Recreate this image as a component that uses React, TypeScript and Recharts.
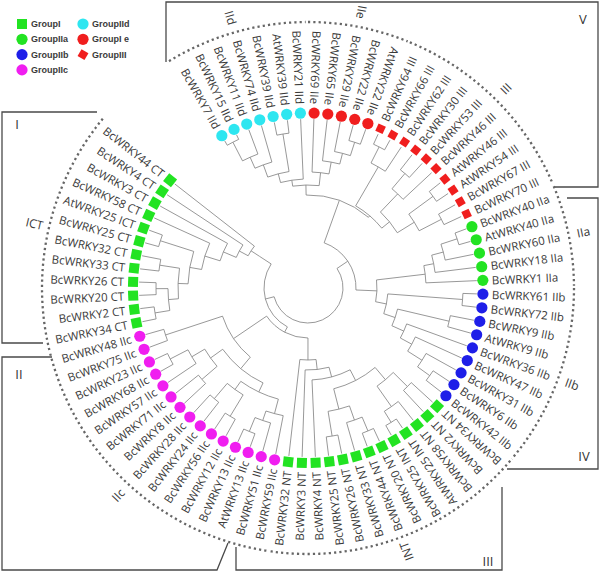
import React from "react";
import { ScatterChart, Scatter, XAxis, YAxis } from "recharts";

// leaf labels, clockwise from the top-left (BcWRKY7 IId)
const groupIId = ["BcWRKY7 IId", "BcWRKY15 IId", "BcWRKY11 IId", "BcWRKY74 IId", "BcWRKY39 IId", "AtWRKY39 IId", "BcWRKY21 IId"];
const groupIIe = ["BcWRKY69 IIe", "BcWRKY65 IIe", "BcWRKY29 IIe", "BcWRKY22 IIe", "AtWRKY22 IIe"];
const groupIII = ["BcWRKY64 III", "BcWRKY66 III", "BcWRKY62 III", "BcWRKY30 III", "BcWRKY53 III", "BcWRKY46 III", "AtWRKY46 III", "AtWRKY54 III", "BcWRKY67 III", "BcWRKY70 III"];
const groupIIa = ["BcWRKY40 IIa", "AtWRKY40 IIa", "BcWRKY60 IIa", "BcWRKY18 IIa", "BcWRKY1 IIa"];
const groupIIb = ["BcWRKY61 IIb", "BcWRKY72 IIb", "BcWRKY9 IIb", "AtWRKY9 IIb", "BcWRKY36 IIb", "BcWRKY47 IIb", "BcWRKY31 IIb", "BcWRKY6 IIb", "BcWRKY42 IIb"];
const groupNT = ["BcWRKY34 NT", "BcWRKY2 NT", "BcWRKY58 NT", "AtWRKY25 INT", "BcWRKY25 INT", "BcWRKY20 NT", "BcWRKY44 NT", "BcWRKY33 NT", "BcWRKY26 NT", "BcWRKY25 NT", "BcWRKY4 NT", "BcWRKY3 NT", "BcWRKY32 NT"];
const groupIIc = ["BcWRKY59 IIc", "BcWRKY51 IIc", "AtWRKY13 IIc", "BcWRKY13 IIc", "BcWRKY12 IIc", "BcWRKY56 IIc", "BcWRKY24 IIc", "BcWRKY28 IIc", "BcWRKY8 IIc", "BcWRKY71 IIc", "BcWRKY57 IIc", "BcWRKY68 IIc", "BcWRKY23 IIc", "BcWRKY75 IIc", "BcWRKY48 IIc"];
const groupCT = ["BcWRKY34 CT", "BcWRKY2 CT", "BcWRKY20 CT", "BcWRKY26 CT", "BcWRKY33 CT", "BcWRKY32 CT", "BcWRKY25 CT", "AtWRKY25 ICT", "BcWRKY58 CT", "BcWRKY3 CT", "BcWRKY4 CT", "BcWRKY44 CT"];

const groupTitles = ["IId", "IIe", "III", "IIa", "IIb", "INT", "IIc", "ICT"];
const legendNames = ["GroupI", "GroupIIa", "GroupIIb", "GroupIIc", "GroupIId", "GroupI e", "GroupIII"];
const frameNames = ["V", "I", "II", "III", "IV"];

// tree: node radius then children (leaf index or sub node)
type TreeNode = { r: number; c: (TreeNode | number)[] };
const n = (r: number, ...c: (TreeNode | number)[]): TreeNode => ({ r, c });

const treeIId = n(109, n(118, n(131, n(143, n(164, 0, 1), 2), 3), n(156, 4, 5)), 6);
const treeIIe = n(116, 7, n(128, 8, n(139, 9, n(153, 10, 11))));
const treeIII = n(95, n(140, n(158, 12, 13), 14), n(105, n(130, n(150, 15, 16), 17), n(125, n(155, 18, 19), n(150, 20, 21))));
const treeIIa = n(118, n(128, n(140, n(157, 22, 23), 24), 25), 26);
const treeIIb = n(80, n(155, 27, 28), n(92, n(145, 29, 30), n(105, 31, n(118, 32, n(135, 33, n(150, 34, 35))))));
const treeNT = n(72, 48, n(82, 47, n(92, 46, n(104, n(125, n(150, 45, 44), n(140, 43, n(155, 42, 41))), n(120, n(145, n(158, 40, 39), 38), n(140, 37, 36))))));
const treeIIc = n(90, n(150, 63, 62), n(105, n(120, n(135, n(155, 61, 60), 59), n(140, 58, 57)), n(115, n(125, n(145, 56, 55), n(150, 54, 53)), n(130, n(140, n(155, 52, 51), 50), 49))));
const treeCT = n(58, n(68, 75, n(78, 74, n(92, 73, n(108, 72, n(120, n(155, 71, 70), n(130, n(150, 69, 68), n(140, n(152, 67, 66), n(155, 65, 64)))))))));
const tree = n(35, n(48, n(93, n(103, treeIId, treeIIe), treeIII), n(69, treeIIa, treeIIb)), n(44, treeCT, n(50, treeIIc, treeNT)));

// layout
const W = 600;
const H = 573;
const CX = 308;
const CY = 288;
const START = 330.5;
const STEP = 4.5;
const LEAF_R = 175;
const TIP_R = 169;
const DOT_R = 266;
const TITLE_R = 281;
const D = Math.PI / 180;

const groupStyle: Record<string, { color: string; shape: string; outward: boolean }> = {
  IId: { color: "#2ee6f0", shape: "circle", outward: false },
  IIe: { color: "#f01e1e", shape: "circle", outward: false },
  III: { color: "#f01e1e", shape: "diamond", outward: true },
  IIa: { color: "#22e322", shape: "circle", outward: true },
  IIb: { color: "#1e1ee8", shape: "circle", outward: true },
  INT: { color: "#22e322", shape: "square", outward: false },
  IIc: { color: "#f01ef0", shape: "circle", outward: false },
  ICT: { color: "#22e322", shape: "square", outward: false },
};
const legendStyle = [
  { color: "#22e322", shape: "square" },
  { color: "#22e322", shape: "circle" },
  { color: "#1e1ee8", shape: "circle" },
  { color: "#f01ef0", shape: "circle" },
  { color: "#2ee6f0", shape: "circle" },
  { color: "#f01e1e", shape: "circle" },
  { color: "#f01e1e", shape: "diamond" },
];

const frames = [
  [[166, 62], [166, 2], [598, 2], [598, 187], [555, 187]],
  [[97, 112], [2, 112], [2, 343], [43, 343]],
  [[52, 357], [2, 357], [2, 570], [217, 570], [228, 543]],
  [[236, 547], [236, 570], [502, 570], [502, 487]],
  [[507, 469], [598, 469], [598, 198], [567, 198]],
];
const frameLabelPos = [[583, 19], [17, 124], [19, 374], [488, 561], [584, 456]];

const polar = (a: number, r: number) => ({ x: CX + r * Math.sin(a * D), y: CY - r * Math.cos(a * D) });

const groups = [groupIId, groupIIe, groupIII, groupIIa, groupIIb, groupNT, groupIIc, groupCT];
const leaves: any[] = [];
groups.forEach((g, gi) => {
  g.forEach((label) => {
    const i = leaves.length;
    const a = START + i * STEP;
    leaves.push({ ...polar(a, LEAF_R), a, label, group: groupTitles[gi] });
  });
});

const branchPts: any[] = [];
const arcPts: any[] = [];
function place(node: TreeNode | number, parentR: number): number {
  if (typeof node === "number") {
    const a = leaves[node].a;
    branchPts.push({ ...polar(a, TIP_R), a, len: TIP_R - parentR });
    return a;
  }
  const angles = node.c.map((ch) => place(ch, node.r));
  const a0 = Math.min(...angles);
  const a1 = Math.max(...angles);
  arcPts.push({ x: CX, y: CY, r: node.r, a0, a1 });
  const a = (a0 + a1) / 2;
  if (parentR >= 0) branchPts.push({ ...polar(a, node.r), a, len: node.r - parentR });
  return a;
}
place(tree, -1);

const groupArcs: any[] = [];
const groupLabels: any[] = [];
let k = 0;
groups.forEach((g, gi) => {
  const a0 = START + k * STEP - 2;
  const a1 = START + (k + g.length - 1) * STEP + 2;
  groupArcs.push({ x: CX, y: CY, r: DOT_R, a0, a1 });
  const am = (a0 + a1) / 2;
  groupLabels.push({ ...polar(am, TITLE_R), a: am, label: groupTitles[gi] });
  k += g.length;
});

const frameLabels = frameNames.map((name, i) => ({ x: frameLabelPos[i][0], y: frameLabelPos[i][1], name }));

const arcPath = (cx: number, cy: number, r: number, a0: number, a1: number) => {
  const s = { x: cx + r * Math.sin(a0 * D), y: cy - r * Math.cos(a0 * D) };
  const e = { x: cx + r * Math.sin(a1 * D), y: cy - r * Math.cos(a1 * D) };
  return `M${s.x},${s.y} A${r},${r} 0 ${a1 - a0 > 180 ? 1 : 0} 1 ${e.x},${e.y}`;
};

const Marker = ({ x, y, color, shape, a }: any) => {
  if (shape === "circle") return <circle cx={x} cy={y} r={5.6} fill={color} />;
  const s = shape === "square" ? 10 : 8;
  return <rect x={x - s / 2} y={y - s / 2} width={s} height={s} fill={color} transform={`rotate(${a} ${x} ${y})`} />;
};

const BranchShape = (props: any) => {
  const { cx, cy, payload } = props;
  const rad = payload.a * D;
  return <line x1={cx} y1={cy} x2={cx - payload.len * Math.sin(rad)} y2={cy + payload.len * Math.cos(rad)} stroke="#7d7d7d" strokeWidth={0.8} />;
};

const ArcShape = (props: any) => {
  const { cx, cy, payload } = props;
  return <path d={arcPath(cx, cy, payload.r, payload.a0, payload.a1)} fill="none" stroke="#7d7d7d" strokeWidth={0.8} />;
};

const DotArcShape = (props: any) => {
  const { cx, cy, payload } = props;
  return <path d={arcPath(cx, cy, payload.r, payload.a0, payload.a1)} fill="none" stroke="#666" strokeWidth={2.3} strokeDasharray="2.2 3.1" />;
};

const LeafShape = (props: any) => {
  const { cx, cy, payload } = props;
  const st = groupStyle[payload.group];
  const rad = payload.a * D;
  const tx = cx + 9 * Math.sin(rad);
  const ty = cy - 9 * Math.cos(rad);
  const rot = st.outward ? payload.a - 90 : payload.a + 90;
  return (
    <g>
      <Marker x={cx} y={cy} color={st.color} shape={st.shape} a={payload.a} />
      <text x={tx} y={ty} transform={`rotate(${rot} ${tx} ${ty})`} textAnchor={st.outward ? "start" : "end"} dominantBaseline="central" fontSize={11.5} fontFamily="Open Sans" fill="#3a3a3a">
        {payload.label}
      </text>
    </g>
  );
};

const GroupLabelShape = (props: any) => {
  const { cx, cy, payload } = props;
  const st = groupStyle[payload.label];
  const rot = st.outward ? payload.a - 90 : payload.a + 90;
  return (
    <text x={cx} y={cy} transform={`rotate(${rot} ${cx} ${cy})`} textAnchor="middle" dominantBaseline="central" fontSize={12} fontFamily="Open Sans" fill="#3a3a3a">
      {payload.label}
    </text>
  );
};

const FrameLabelShape = (props: any) => (
  <text x={props.cx} y={props.cy} textAnchor="middle" dominantBaseline="central" fontSize={13} fontFamily="Open Sans" fill="#333">
    {props.payload.name}
  </text>
);

const Empty = () => <g />;

function LegendBox() {
  return (
    <svg width={150} height={80} style={{ position: "absolute", left: 0, top: 0 }}>
      {legendNames.map((name, i) => {
        const col = i < 4 ? 0 : 1;
        const row = i < 4 ? i : i - 4;
        const x = col === 0 ? 22 : 83;
        const y = 24 + row * 15.3;
        const st = legendStyle[i];
        return (
          <g key={name}>
            <Marker x={x} y={y} color={st.color} shape={st.shape} a={st.shape === "diamond" ? 30 : 0} />
            <text x={x + 9} y={y} dominantBaseline="central" fontSize={9} fontWeight="bold" fontFamily="Liberation Sans" fill="#3a3a3a">
              {name}
            </text>
          </g>
        );
      })}
    </svg>
  );
}

export default function App() {
  return (
    <div style={{ position: "absolute", left: 0, top: 0, width: W, height: H, background: "#fff" }}>
      <ScatterChart width={W} height={H} margin={{ top: 0, right: 0, bottom: 0, left: 0 }}>
        <XAxis type="number" dataKey="x" domain={[0, W]} allowDataOverflow hide />
        <YAxis type="number" dataKey="y" domain={[0, H]} allowDataOverflow reversed hide />
        {frames.map((f, i) => (
          <Scatter
            key={i}
            data={f.map(([x, y]) => ({ x, y }))}
            line={{ stroke: "#4a4a4a", strokeWidth: 1.3 }}
            shape={Empty}
            isAnimationActive={false}
          />
        ))}
        <Scatter data={frameLabels} shape={FrameLabelShape} isAnimationActive={false} />
        <Scatter data={groupArcs} shape={DotArcShape} isAnimationActive={false} />
        <Scatter data={groupLabels} shape={GroupLabelShape} isAnimationActive={false} />
        <Scatter data={arcPts} shape={ArcShape} isAnimationActive={false} />
        <Scatter data={branchPts} shape={BranchShape} isAnimationActive={false} />
        <Scatter data={leaves} shape={LeafShape} isAnimationActive={false} />
      </ScatterChart>
      <LegendBox />
    </div>
  );
}
